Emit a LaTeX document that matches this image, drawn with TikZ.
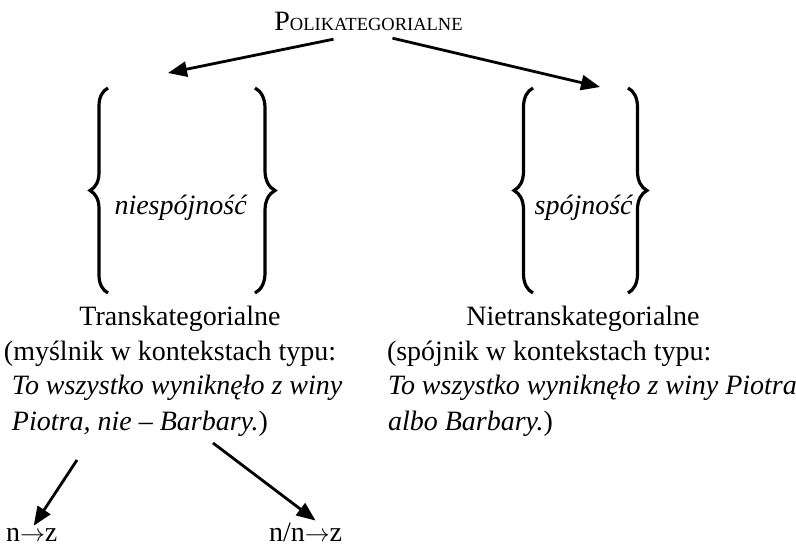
\documentclass[tikz,border=0pt]{standalone}
\usepackage{fontspec}
\setmainfont{Liberation Serif}
\usetikzlibrary{arrows.meta,decorations.pathreplacing}

\begin{document}
\begin{tikzpicture}[x=1pt,y=-1pt,
		txt/.style={font=\fontsize{28}{34}\selectfont, inner sep=0pt, outer sep=2pt},
		arr/.style={line width=2.8pt, -{Triangle[length=19pt,width=15pt]}},
		brc/.style={line width=3.2pt, decorate, decoration={brace, amplitude=#1}}]
		\useasboundingbox (0,0) rectangle (796,548);
		% naglowek
		\node[txt, anchor=base] (poli) at (368.5,31) {P{\fontsize{18.5}{18.5}\selectfont OLIKATEGORIALNE}};
		\coordinate (lt) at (168,73);
		\coordinate (rt) at (600,87);
		\draw[arr] ([shift={(-35,6)}]poli.south) -- (lt);
		\draw[arr] ([shift={(24,5)}]poli.south) -- (rt);
		% nawiasy
		\draw[brc=18pt] (108,293) -- (108,88);
		\draw[brc=20pt] (255,88) -- (255,293);
		\draw[brc=19pt] (533,293) -- (533,88);
		\draw[brc=19pt] (628,88) -- (628,293);
		\node[txt, anchor=base] (niesp) at (181,215) {\textit{niespójność}};
		\node[txt, anchor=base] (spoj) at (584,215) {\textit{spójność}};
		% opisy
		\node[txt, anchor=base] (trans) at (180,326) {Transkategorialne};
		\node[txt, anchor=base] (nietrans) at (583,326) {Nietranskategorialne};
		\node[txt, anchor=base west] (l1) at (2,360) {(myślnik w kontekstach typu:};
		\node[txt, anchor=base west] (l2) at (10,395) {\textit{To wszystko wyniknęło z winy}};
		\node[txt, anchor=base west] (l3) at (10,430) {\textit{Piotra, nie – Barbary.})};
		\node[txt, anchor=base west] (r1) at (385,360) {(spójnik w kontekstach typu:};
		\node[txt, anchor=base west] (r2) at (386,395) {\textit{To wszystko wyniknęło z winy Piotra}};
		\node[txt, anchor=base west] (r3) at (386,430) {\textit{albo Barbary.})};
		% typy
		\node[txt, anchor=base west] (nz) at (4,541) {n$\rightarrow$z};
		\node[txt, anchor=base west] (nnz) at (267,541) {n/n$\rightarrow$z};
		\coordinate (ls) at (77,460);
		\coordinate (rs) at (213,443);
		\draw[arr] (ls) -- ([xshift=2pt]nz.north);
		\draw[arr] (rs) -- ([xshift=10pt]nnz.north);
	\end{tikzpicture}
\end{document}
